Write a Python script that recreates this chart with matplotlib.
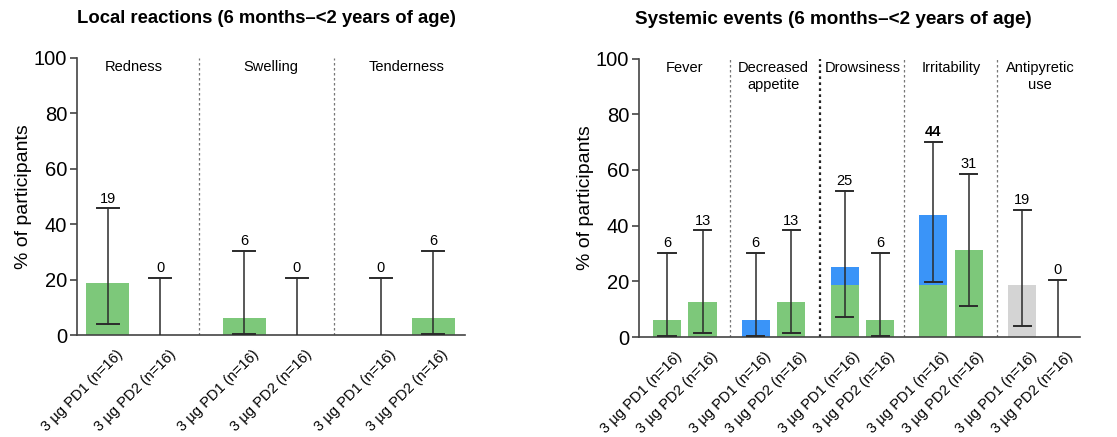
import matplotlib
matplotlib.use("Agg")
import matplotlib.pyplot as plt
from matplotlib.transforms import ScaledTranslation

plt.rcParams['font.family'] = ['Liberation Sans', 'DejaVu Sans']

# ---------------- data ----------------
groups = ["3 \u00b5g PD1 (n=16)", "3 \u00b5g PD2 (n=16)"]

local_categories = ["Redness", "Swelling", "Tenderness"]
local_mild = [[18.75, 0.0], [6.25, 0.0], [0.0, 6.25]]
local_labels = [["19", "0"], ["6", "0"], ["0", "6"]]
local_ci_low = [[4.0, 0.0], [0.2, 0.0], [0.0, 0.2]]
local_ci_high = [[45.6, 20.6], [30.2, 20.6], [20.6, 30.2]]

sys_categories = ["Fever", "Decreased\nappetite", "Drowsiness", "Irritability", "Antipyretic\nuse"]
sys_mild = [[6.25, 12.5], [0.0, 12.5], [18.75, 6.25], [18.75, 31.25], [0.0, 0.0]]
sys_moderate = [[0.0, 0.0], [6.25, 0.0], [6.25, 0.0], [25.0, 0.0], [0.0, 0.0]]
sys_antipyretic = [[0.0, 0.0], [0.0, 0.0], [0.0, 0.0], [0.0, 0.0], [18.75, 0.0]]
sys_labels = [["6", "13"], ["6", "13"], ["25", "6"], ["44", "31"], ["19", "0"]]
sys_ci_low = [[0.2, 1.6], [0.2, 1.6], [7.3, 0.2], [19.8, 11.0], [4.0, 0.0]]
sys_ci_high = [[30.2, 38.3], [30.2, 38.3], [52.4, 30.2], [70.1, 58.7], [45.6, 20.6]]

yticks = [0, 20, 40, 60, 80, 100]

GREEN = "#7dc87a"
BLUE = "#3a94f8"
GRAY = "#d4d4d4"
LINE = "#2b2b2b"

fig = plt.figure(figsize=(11.17, 4.37), dpi=100)


def style_axes(ax, xmin, xmax):
    ax.set_ylim(0, 100)
    ax.set_xlim(xmin, xmax)
    ax.set_yticks(yticks)
    ax.set_yticklabels([str(t) for t in yticks], fontsize=14.5)
    for s in ["top", "right"]:
        ax.spines[s].set_visible(False)
    for s in ["left", "bottom"]:
        ax.spines[s].set_color("#444444")
        ax.spines[s].set_linewidth(1.2)
    ax.tick_params(axis="y", length=5, width=1.2, color="#444444", pad=2)
    ax.tick_params(axis="x", length=0, pad=4)
    ax.set_ylabel("% of participants", fontsize=14, labelpad=1)


def draw_panel(ax, cats, stacks, labels, lo, hi, group_step, width, cap, dividers, bold_div=None):
    xs_all, names = [], []
    for ci, cat in enumerate(cats):
        for gi in range(2):
            x = ci * group_step + gi
            xs_all.append(x)
            names.append(groups[gi])
            bottom = 0.0
            for vals, col in stacks:
                v = vals[ci][gi]
                if v > 0:
                    ax.bar(x, v, width=width, bottom=bottom, color=col, edgecolor="none", zorder=2)
                bottom += v
            ax.plot([x, x], [lo[ci][gi], hi[ci][gi]], color=LINE, lw=1.1, zorder=3)
            ax.plot([x - cap, x + cap], [hi[ci][gi], hi[ci][gi]], color=LINE, lw=1.4, zorder=3)
            if lo[ci][gi] > 0:
                ax.plot([x - cap, x + cap], [lo[ci][gi], lo[ci][gi]], color=LINE, lw=1.4, zorder=3)
            ax.annotate(labels[ci][gi], (x, hi[ci][gi]), xytext=(0, 2), textcoords="offset points",
                        ha="center", va="bottom", fontsize=10.5,
                        fontweight="bold" if labels[ci][gi] == "44" else "normal")
        ax.text(ci * group_step + 0.5, 99, cat, ha="center", va="top", fontsize=10.5,
                linespacing=1.25)
    for i, d in enumerate(dividers):
        if bold_div is not None and i == bold_div:
            ax.plot([d, d], [0, 100], color="#222222", lw=1.6, ls=(0, (1.2, 1.5)), zorder=1)
        else:
            ax.plot([d, d], [0, 100], color="#777777", lw=0.9, ls=(0, (2, 2)), zorder=1)
    ax.set_xticks(xs_all)
    ax.set_xticklabels(names, rotation=45, ha="right", rotation_mode="anchor", fontsize=10.5)
    shift = ScaledTranslation(8 / 100, -7 / 100, fig.dpi_scale_trans)
    for lab in ax.get_xticklabels():
        lab.set_transform(lab.get_transform() + shift)


# Left panel
axL = fig.add_axes([0.0689, 0.2334, 0.347, 0.635])
style_axes(axL, -0.59, 6.8)
draw_panel(axL, local_categories, [(local_mild, GREEN)], local_labels, local_ci_low, local_ci_high,
           2.6, 0.82, 0.21, [1.73, 4.32])
axL.set_title("Local reactions (6 months\u2013<2 years of age)", fontsize=13.3, fontweight="bold",
              pad=25, x=0.49)

# Right panel
axR = fig.add_axes([0.572, 0.2288, 0.395, 0.637])
style_axes(axR, -0.79, 11.63)
draw_panel(axR, sys_categories,
           [(sys_mild, GREEN), (sys_moderate, BLUE), (sys_antipyretic, GRAY)],
           sys_labels, sys_ci_low, sys_ci_high,
           2.5, 0.79, 0.24, [1.77, 4.3, 6.68, 9.3], bold_div=1)
axR.set_title("Systemic events (6 months\u2013<2 years of age)", fontsize=13.6, fontweight="bold",
              pad=25, x=0.44)

fig.savefig("out.png", dpi=100)
